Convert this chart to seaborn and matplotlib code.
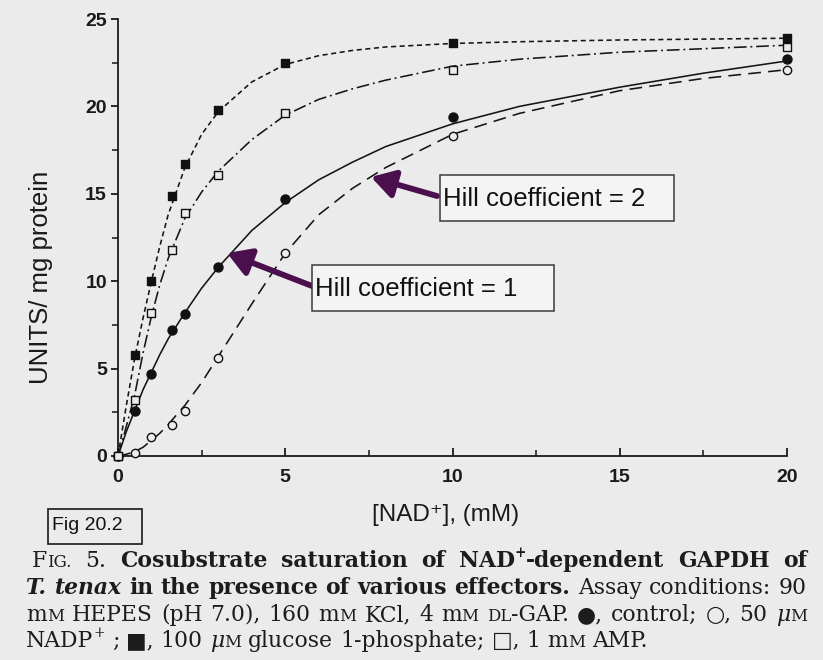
import numpy as np
import pandas as pd
import matplotlib
matplotlib.use("Agg")
import matplotlib.pyplot as plt
from matplotlib.patches import Rectangle
import seaborn as sns

# ---------------- data ----------------
x_points = [0, 0.5, 1, 1.6, 2, 3, 5, 10, 20]
control_pts = [0, 2.6, 4.7, 7.2, 8.1, 10.8, 14.7, 19.4, 22.7]      # filled circles
nadp_pts = [0, 0.2, 1.1, 1.8, 2.6, 5.6, 11.6, 18.3, 22.1]          # open circles
glucose_pts = [0, 5.8, 10.0, 14.9, 16.7, 19.8, 22.5, 23.6, 23.9]   # filled squares
amp_pts = [0, 3.2, 8.2, 11.8, 13.9, 16.1, 19.6, 22.1, 23.4]        # open squares

curve_x = [0, 0.25, 0.5, 0.75, 1, 1.25, 1.5, 2, 2.5, 3, 4, 5, 6, 7, 8, 10, 12, 15, 17.5, 20]
glucose_curve = [0, 2.9, 5.6, 7.9, 10.0, 12.0, 13.8, 16.5, 18.4, 19.7, 21.4, 22.4, 22.9, 23.2, 23.4, 23.6, 23.7, 23.8, 23.85, 23.9]
amp_curve = [0, 1.7, 3.5, 5.9, 8.0, 9.8, 11.3, 13.6, 15.1, 16.3, 18.1, 19.5, 20.4, 21.0, 21.5, 22.3, 22.7, 23.1, 23.3, 23.5]
control_curve = [0, 1.4, 2.6, 3.8, 4.8, 5.8, 6.7, 8.2, 9.6, 10.8, 12.9, 14.5, 15.8, 16.8, 17.7, 19.0, 20.0, 21.1, 21.9, 22.6]
nadp_curve = [0, 0.1, 0.25, 0.5, 0.9, 1.3, 1.8, 2.9, 4.2, 5.7, 8.7, 11.6, 13.8, 15.3, 16.5, 18.4, 19.6, 20.9, 21.6, 22.1]

x_ticks = [0, 5, 10, 15, 20]
y_ticks = [0, 5, 10, 15, 20, 25]
x_label = "[NAD\u207a], (mM)"
y_label = "UNITS/ mg protein"
hill_labels = ["Hill coefficient = 2", "Hill coefficient = 1"]
fig_tag = "Fig 20.2"

# ---------------- style ----------------
BG = "#eaebea"
W, H = 823, 660
sns.set_style("ticks")
plt.rcParams["font.family"] = ["Liberation Sans", "DejaVu Sans"]

fig = plt.figure(figsize=(W / 100, H / 100), dpi=100, facecolor=BG)
ax = fig.add_axes([118 / W, 1 - 456 / H, (787 - 118) / W, (456 - 19) / H])
ax.set_facecolor(BG)

series = ["glucose", "amp", "control", "nadp"]
curves = pd.DataFrame({
    "x": curve_x * 4,
    "y": glucose_curve + amp_curve + control_curve + nadp_curve,
    "series": sum([[s] * len(curve_x) for s in series], []),
})
dash_map = {"glucose": (3.2, 2.2), "amp": (8, 2.4, 1.2, 2.4), "control": "", "nadp": (8, 4.5)}
sns.lineplot(data=curves, x="x", y="y", hue="series", style="series",
             palette={s: "#151515" for s in series}, dashes=dash_map,
             linewidth=1.15, legend=False, ax=ax, sort=False)

pts = [
    (control_pts, "o", "#111111", 42),
    (nadp_pts, "o", BG, 36),
    (glucose_pts, "s", "#111111", 34),
    (amp_pts, "s", BG, 30),
]
for vals, mk, fc, size in pts:
    sns.scatterplot(x=x_points, y=vals, marker=mk, s=size, color=fc,
                    edgecolor="#111111", linewidth=1.0, ax=ax, zorder=4,
                    clip_on=False, legend=False)

ax.set_xlim(0, 20)
ax.set_ylim(0, 25)
ax.set_xticks(x_ticks)
ax.set_yticks(y_ticks)
ax.set_xticks(np.arange(2.5, 20, 5), minor=True)
ax.set_yticks(np.arange(2.5, 25, 5), minor=True)
ax.set_xlabel("")
ax.set_ylabel("")
for sp in ["top", "right"]:
    ax.spines[sp].set_visible(False)
for sp in ["left", "bottom"]:
    ax.spines[sp].set_linewidth(1.3)
    ax.spines[sp].set_color("#1a1a1a")
ax.tick_params(axis="x", which="major", direction="in", length=6, width=1.3,
               pad=9, labelsize=14, colors="#1a1a1a")
ax.tick_params(axis="x", which="minor", direction="in", length=4, width=1.2)
ax.tick_params(axis="y", which="major", direction="out", length=5, width=1.3,
               pad=3, labelsize=14, colors="#1a1a1a")
ax.tick_params(axis="y", which="minor", direction="out", length=4, width=1.2)
for lab in ax.get_xticklabels() + ax.get_yticklabels():
    lab.set_fontweight("bold")

# axis labels
fig.text(446 / W, 1 - 515 / H, x_label, ha="center", va="center", fontsize=17.5,
         color="#1a1a1a")
fig.text(41 / W, 1 - 277 / H, y_label, ha="center", va="center", rotation=90,
         fontsize=18.5, color="#1a1a1a")

# Hill coefficient boxes and arrows
ARROW = "#4b0f4d"
boxes = [((440, 175, 674, 221), hill_labels[0], (437, 196), (371, 177)),
         ((312, 265, 554, 311), hill_labels[1], (312, 286), (227, 253))]
for (l, t, r, b), txt, tail, tip in boxes:
    fig.add_artist(Rectangle((l / W, 1 - b / H), (r - l) / W, (b - t) / H,
                             transform=fig.transFigure, facecolor="#f4f4f4",
                             edgecolor="#3a3a3a", linewidth=1.1, zorder=5))
    fig.text((l + 3) / W, 1 - ((t + b) / 2 + 1) / H, txt, ha="left", va="center",
             fontsize=18.5, color="#111111", zorder=6)
    ax.annotate("", xy=(tip[0], H - tip[1]), xycoords="figure pixels",
                xytext=(tail[0], H - tail[1]), textcoords="figure pixels",
                arrowprops=dict(arrowstyle="-|>,head_length=1.0,head_width=0.6",
                                lw=4.2, color=ARROW, shrinkA=0, shrinkB=0,
                                mutation_scale=14), zorder=6)

# Fig 20.2 tag
fig.add_artist(Rectangle((48 / W, 1 - 544 / H), 94 / W, 35 / H,
                         transform=fig.transFigure, facecolor=BG,
                         edgecolor="#2a2a2a", linewidth=1.3))
fig.text(52 / W, 1 - 526 / H, fig_tag, ha="left", va="center", fontsize=14,
         color="#111111")

# ---------------- caption ----------------
SERIF = ["DejaVu Serif", "DejaVu Sans"]
renderer = fig.canvas.get_renderer()


def build_lines(FS):
    N = dict(fontsize=FS)
    B = dict(fontsize=FS, fontweight="bold")
    BI = dict(fontsize=FS, fontweight="bold", fontstyle="italic")
    SC = dict(fontsize=FS * 0.76)
    SUP = dict(fontsize=FS * 0.62, dy=FS * 0.45)
    BSUP = dict(fontsize=FS * 0.62, fontweight="bold", dy=FS * 0.45)

    def words(text, props):
        return [[(t, props)] for t in text.split()]

    mM = [("m", N), ("M", SC)]
    muM = [("\u03bc", dict(fontsize=FS, fontstyle="italic")), ("M", SC)]

    l1 = ([[("F", N), ("IG.", SC)], [("5.", N)]]
          + words("Cosubstrate saturation of", B)
          + [[("NAD", B), ("+", BSUP), ("-dependent", B)]]
          + words("GAPDH of", B))
    l2 = ([[("T.", BI)], [("tenax", BI)]]
          + words("in the presence of various effectors.", B)
          + words("Assay conditions: 90", N))
    l3 = ([mM] + words("HEPES (pH 7.0), 160", N) + [mM] + words("KCl, 4", N) + [mM]
          + [[("DL", SC), ("-GAP.", N)], [("\u25cf,", N)]]
          + words("control;", N) + [[("\u25cb,", N)]] + words("50", N) + [muM])
    l4 = ([[("NADP", N), ("+", SUP)], [(";", N)], [("\u25a0,", N)]]
          + words("100", N) + [muM] + words("glucose 1-phosphate;", N)
          + [[("\u25a1,", N)]] + words("1", N) + [mM] + words("AMP.", N))
    return [l1, l2, l3, l4], N


def run_props(p):
    q = {k: v for k, v in p.items() if k != "dy"}
    q.setdefault("family", SERIF)
    q.setdefault("color", "#1c1c1c")
    return q


def run_width(text, p):
    t = fig.text(0, 0, text, **run_props(p))
    wd = t.get_window_extent(renderer).width
    t.remove()
    return wd


def space_width(N):
    return run_width("a a", N) - run_width("aa", N)


def natural_width(ws, N):
    widths = [sum(run_width(t, p) for t, p in wd) for wd in ws]
    return sum(widths) + space_width(N) * (len(ws) - 1)


def draw_line(ws, N, x0, x1, base_y, justify=True):
    widths = [sum(run_width(t, p) for t, p in wd) for wd in ws]
    if justify:
        gap = (x1 - x0 - sum(widths)) / (len(ws) - 1)
    else:
        gap = space_width(N)
    x = x0
    for wd, ww in zip(ws, widths):
        cx = x
        for t, p in wd:
            dy = p.get("dy", 0) * 100 / 72
            fig.text(cx / W, 1 - (base_y - dy) / H, t, ha="left", va="baseline",
                     **run_props(p))
            cx += run_width(t, p)
        x += ww + gap


# fit font size so the unjustified last line ends where it does in the scan
FS0 = 13.6
lines0, N0 = build_lines(FS0)
FS = FS0 * (645 - 26) / natural_width(lines0[3], N0)
widest = max(natural_width(l, N0) for l in lines0[:3]) * FS / FS0
if widest > 781:
    FS *= 781 / widest
lines, N = build_lines(FS)

draw_line(lines[0], N, 32, 807, 567)
draw_line(lines[1], N, 26, 807, 594)
draw_line(lines[2], N, 26, 807, 621)
draw_line(lines[3], N, 26, 807, 647, justify=False)

fig.savefig("out.png", dpi=100, facecolor=BG)
